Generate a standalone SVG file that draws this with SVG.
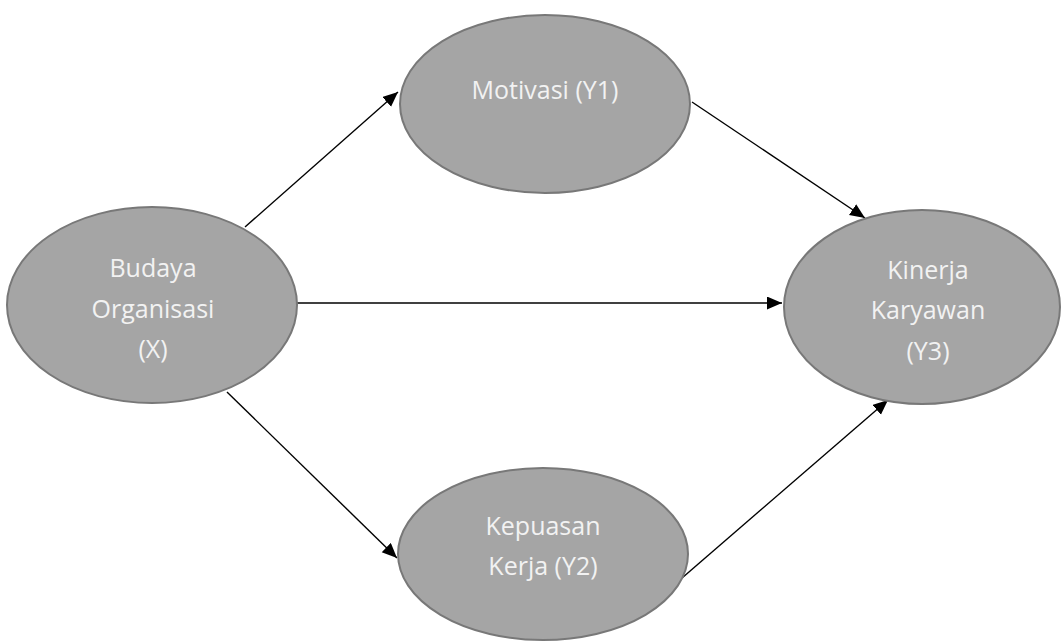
<svg xmlns="http://www.w3.org/2000/svg" width="1062" height="641" viewBox="0 0 1062 641">
<style>
.node{fill:#a5a5a5;stroke:#787878;stroke-width:2}
.lbl{font-family:"Open Sans","Liberation Sans",sans-serif;font-size:25px;fill:#f2f2f2;text-anchor:middle}
.edge{stroke:#000;stroke-width:1.4;fill:none;marker-end:url(#arr)}
</style>
<defs>
<marker id="arr" markerUnits="userSpaceOnUse" markerWidth="16" markerHeight="14" refX="15" refY="6.5" orient="auto">
<path d="M0,0 L15,6.5 L0,13 Z" fill="#000"/>
</marker>
</defs>
<rect width="1062" height="641" fill="#fff"/>
<g id="connectors">
<line class="edge" x1="245" y1="227" x2="398" y2="92"/>
<line class="edge" x1="692" y1="102" x2="865" y2="218"/>
<line class="edge" x1="297" y1="303" x2="782" y2="303"/>
<line class="edge" x1="227" y1="392" x2="397" y2="558"/>
<line class="edge" x1="682" y1="578" x2="888" y2="400"/>
</g>
<g id="budaya">
<ellipse class="node" cx="152" cy="305" rx="145" ry="98"/>
<text class="lbl" x="153" y="277">Budaya</text>
<text class="lbl" x="153" y="318">Organisasi</text>
<text class="lbl" x="153" y="358">(X)</text>
</g>
<g id="motivasi">
<ellipse class="node" cx="545" cy="104" rx="145" ry="89"/>
<text class="lbl" x="545" y="99">Motivasi (Y1)</text>
</g>
<g id="kinerja">
<ellipse class="node" cx="922" cy="307" rx="138" ry="97"/>
<text class="lbl" x="928" y="279">Kinerja</text>
<text class="lbl" x="928" y="319">Karyawan</text>
<text class="lbl" x="928" y="360">(Y3)</text>
</g>
<g id="kepuasan">
<ellipse class="node" cx="543" cy="554" rx="145" ry="86"/>
<text class="lbl" x="543" y="535">Kepuasan</text>
<text class="lbl" x="543" y="575">Kerja (Y2)</text>
</g>
</svg>
